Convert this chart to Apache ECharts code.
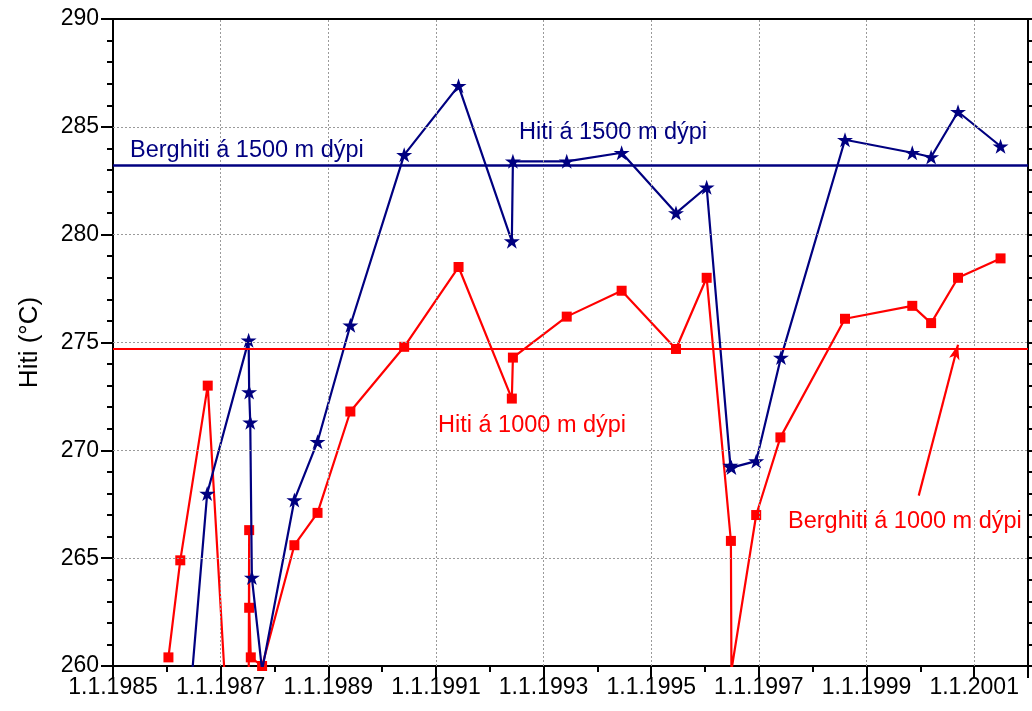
<!DOCTYPE html>
<html>
<head>
<meta charset="utf-8">
<script src="https://cdn.jsdelivr.net/npm/echarts@6/dist/echarts.min.js"></script>
<style>
  html, body { margin: 0; padding: 0; background: #fff; }
  #chart { width: 1032px; height: 711px; }
</style>
</head>
<body>
<div id="chart"></div>
<script>
// Measurement dates as decimal years
const dates1000 = [1986.03, 1986.25, 1986.76, 1987.50, 1987.53, 1987.53, 1987.56, 1987.77,
  1988.37, 1988.80, 1989.41, 1990.41, 1991.42, 1992.41, 1992.43, 1993.43, 1994.45,
  1995.46, 1996.03, 1996.48, 1996.49, 1996.95, 1997.40, 1998.60, 1999.85, 2000.20,
  2000.70, 2001.49];
const values1000 = [260.4, 264.9, 273.0, 241.3, 266.3, 262.7, 260.4, 260.0,
  265.6, 267.1, 271.8, 274.8, 278.5, 272.4, 274.3, 276.2, 277.4,
  274.7, 278.0, 265.8, 259.8, 267.0, 270.6, 276.1, 276.7, 275.9,
  278.0, 278.9];

const dates1500 = [1986.25, 1986.75, 1987.52, 1987.53, 1987.55, 1987.58, 1987.77,
  1988.37, 1988.80, 1989.41, 1990.41, 1991.42, 1992.41, 1992.43, 1993.43, 1994.45,
  1995.46, 1996.03, 1996.47, 1996.49, 1996.95, 1997.41, 1998.60, 1999.85, 2000.20,
  2000.70, 2001.49];
const values1500 = [253.1, 268.0, 275.1, 272.7, 271.3, 264.1, 259.8,
  267.7, 270.4, 275.8, 283.7, 286.9, 279.7, 283.4, 283.4, 283.8,
  281.0, 282.2, 269.3, 269.2, 269.5, 274.3, 284.4, 283.8, 283.6,
  285.7, 284.1];

// Rock temperature levels
const berghiti1500 = 283.2;
const berghiti1000 = 274.7;

// Arrow pointing at the 1000 m rock temperature line: [year, value]
const arrowFrom = [1999.97, 267.9];
const arrowTo = [2000.70, 274.9];

// Axis setup (x values are years after startYear)
const startYear = 1985;
const endYear = 2002;
const yMin = 260, yMax = 290, yStep = 5;
const span = endYear - startYear;
const gridYears = [1987, 1989, 1991, 1993, 1995, 1997, 1999, 2001];
const gridTemps = [265, 270, 275, 280, 285];
const fmtDate = v => (v % 2 === 0 && v < span) ? '1.1.' + (startYear + v) : '';

const texts = {
  yName: 'Hiti (\u00B0C)',
  berg1500: 'Berghiti \u00E1 1500 m d\u00FDpi',
  hiti1500: 'Hiti \u00E1 1500 m d\u00FDpi',
  hiti1000: 'Hiti \u00E1 1000 m d\u00FDpi',
  berg1000: 'Berghiti \u00E1 1000 m d\u00FDpi'
};

const RED = '#ff0000';
const NAVY = '#000080';
const GRID = '#9a9a9a';
const FONT = '"Liberation Sans", Arial, Helvetica, sans-serif';
const STAR = 'path://M50,0 L61.2,34.5 L97.6,34.5 L68.2,55.9 L79.4,90.5 L50,69.1 L20.6,90.5 L31.8,55.9 L2.4,34.5 L38.8,34.5 Z';

const toXY = (d, v) => d.map((t, i) => [t - startYear, v[i]]);

const chart = echarts.init(document.getElementById('chart'), null, { renderer: 'canvas' });

const axisLineStyle = { color: '#000', width: 2 };
const tickStyle = { color: '#000', width: 2 };

chart.setOption({
  animation: false,
  backgroundColor: '#fff',
  grid: { left: 113, right: 4, top: 19, bottom: 45, containLabel: false, outerBoundsMode: 'none' },
  xAxis: [
    {
      type: 'value', position: 'bottom',
      min: 0, max: span, interval: 2,
      axisLine: { show: true, onZero: false, lineStyle: axisLineStyle },
      axisTick: { show: true, length: 12, lineStyle: tickStyle },
      minorTick: { show: true, splitNumber: 2, length: 6, lineStyle: tickStyle },
      axisLabel: { formatter: fmtDate, showMaxLabel: false, color: '#000', fontSize: 23, fontFamily: FONT, margin: 10 },
      splitLine: { show: false },
      minorSplitLine: { show: false }
    },
    {
      type: 'value', position: 'top',
      min: 0, max: span, interval: 2,
      axisLine: { show: true, onZero: false, lineStyle: axisLineStyle },
      axisTick: { show: false }, axisLabel: { show: false },
      splitLine: { show: false }, minorSplitLine: { show: false }
    }
  ],
  yAxis: [
    {
      type: 'value', position: 'left',
      min: yMin, max: yMax, interval: yStep,
      name: texts.yName, nameLocation: 'middle', nameGap: 70,
      nameTextStyle: { color: '#000', fontSize: 26, fontFamily: FONT },
      axisLine: { show: true, onZero: false, lineStyle: axisLineStyle },
      axisTick: { show: true, length: 12, lineStyle: tickStyle },
      minorTick: { show: true, splitNumber: 5, length: 6, lineStyle: tickStyle },
      axisLabel: { color: '#000', fontSize: 23, fontFamily: FONT, margin: 14 },
      splitLine: { show: false }, minorSplitLine: { show: false }
    },
    {
      type: 'value', position: 'right',
      min: yMin, max: yMax, interval: yStep,
      axisLine: { show: true, onZero: false, lineStyle: axisLineStyle },
      axisTick: { show: true, length: 12, lineStyle: tickStyle },
      minorTick: { show: true, splitNumber: 5, length: 6, lineStyle: tickStyle },
      axisLabel: { show: false },
      splitLine: { show: false }, minorSplitLine: { show: false }
    }
  ],
  series: [
    {
      // dotted grid at the labelled dates and temperatures
      type: 'line',
      data: [],
      silent: true,
      z: 1,
      markLine: {
        silent: true,
        animation: false,
        symbol: 'none',
        label: { show: false },
        lineStyle: { color: GRID, type: [2, 2], width: 1 },
        data: gridYears.map(y => ({ xAxis: y - startYear }))
          .concat(gridTemps.map(t => ({ yAxis: t })))
      }
    },
    {
      name: texts.hiti1000,
      type: 'line',
      xAxisIndex: 0, yAxisIndex: 0,
      data: toXY(dates1000, values1000),
      clip: true,
      symbol: 'rect', symbolSize: 10, showAllSymbol: true,
      lineStyle: { color: RED, width: 2.2 },
      itemStyle: { color: RED },
      z: 3,
      markLine: {
        silent: true,
        animation: false,
        label: { show: false },
        data: [
          [{ coord: [0, berghiti1000], symbol: 'none' }, { coord: [span, berghiti1000], symbol: 'none' }],
          [{ coord: [arrowFrom[0] - startYear, arrowFrom[1]], symbol: 'none' },
           { coord: [arrowTo[0] - startYear, arrowTo[1]], symbol: 'arrow', symbolSize: [8, 15] }]
        ],
        lineStyle: { color: RED, width: 2.2, type: 'solid' }
      }
    },
    {
      name: texts.hiti1500,
      type: 'line',
      xAxisIndex: 0, yAxisIndex: 0,
      data: toXY(dates1500, values1500),
      clip: true,
      symbol: STAR, symbolSize: [16, 15], showAllSymbol: true,
      lineStyle: { color: NAVY, width: 2.2 },
      itemStyle: { color: NAVY },
      z: 4,
      markLine: {
        silent: true,
        animation: false,
        symbol: 'none',
        label: { show: false },
        data: [[{ coord: [0, berghiti1500] }, { coord: [span, berghiti1500] }]],
        lineStyle: { color: NAVY, width: 2.5, type: 'solid' }
      }
    }
  ],
  graphic: [
    { type: 'text', x: 130, y: 151, style: { text: texts.berg1500, fill: NAVY, font: '23.5px ' + FONT, textVerticalAlign: 'middle' }, z: 10 },
    { type: 'text', x: 519, y: 133, style: { text: texts.hiti1500, fill: NAVY, font: '23.5px ' + FONT, textVerticalAlign: 'middle' }, z: 10 },
    { type: 'text', x: 438, y: 426, style: { text: texts.hiti1000, fill: RED, font: '23.5px ' + FONT, textVerticalAlign: 'middle' }, z: 10 },
    { type: 'text', x: 788, y: 522, style: { text: texts.berg1000, fill: RED, font: '23.5px ' + FONT, textVerticalAlign: 'middle' }, z: 10 }
  ]
});

// Keep only the dotted grid lines at the labelled dates and temperatures.
function tidyGrid() {
  try {
    const zr = chart.getZr();
    const px = v => chart.convertToPixel({ xAxisIndex: 0 }, v);
    const py = v => chart.convertToPixel({ yAxisIndex: 0 }, v);
    const keepX = gridYears.map(y => px(y - startYear));
    const keepY = gridTemps.map(py);
    const plotH = Math.abs(py(yMin) - py(yMax));
    const plotW = Math.abs(px(span) - px(0));
    zr.storage.getDisplayList(true).forEach(el => {
      const st = el.style;
      const dashed = st && st.lineDash && st.lineDash !== 'solid';
      if (!dashed) return;
      const s = el.shape;
      if (!s || s.x1 == null || s.x2 == null) { el.ignore = true; return; }
      const m = el.transform || [1, 0, 0, 1, 0, 0];
      const gx1 = m[0] * s.x1 + m[2] * s.y1 + m[4];
      const gx2 = m[0] * s.x2 + m[2] * s.y2 + m[4];
      const gy1 = m[1] * s.x1 + m[3] * s.y1 + m[5];
      const gy2 = m[1] * s.x2 + m[3] * s.y2 + m[5];
      if (Math.abs(gx1 - gx2) < 0.5 && Math.abs(gy1 - gy2) > plotH * 0.9) {
        if (!keepX.some(k => Math.abs(k - gx1) < 1.5)) el.ignore = true;
      } else if (Math.abs(gy1 - gy2) < 0.5 && Math.abs(gx1 - gx2) > plotW * 0.9) {
        if (!keepY.some(k => Math.abs(k - gy1) < 1.5)) el.ignore = true;
      }
    });
    zr.refresh();
  } catch (e) { /* leave the chart as drawn */ }
}
tidyGrid();
let tidyRuns = 0;
chart.on('finished', () => { if (tidyRuns++ < 2) tidyGrid(); });
</script>
</body>
</html>
